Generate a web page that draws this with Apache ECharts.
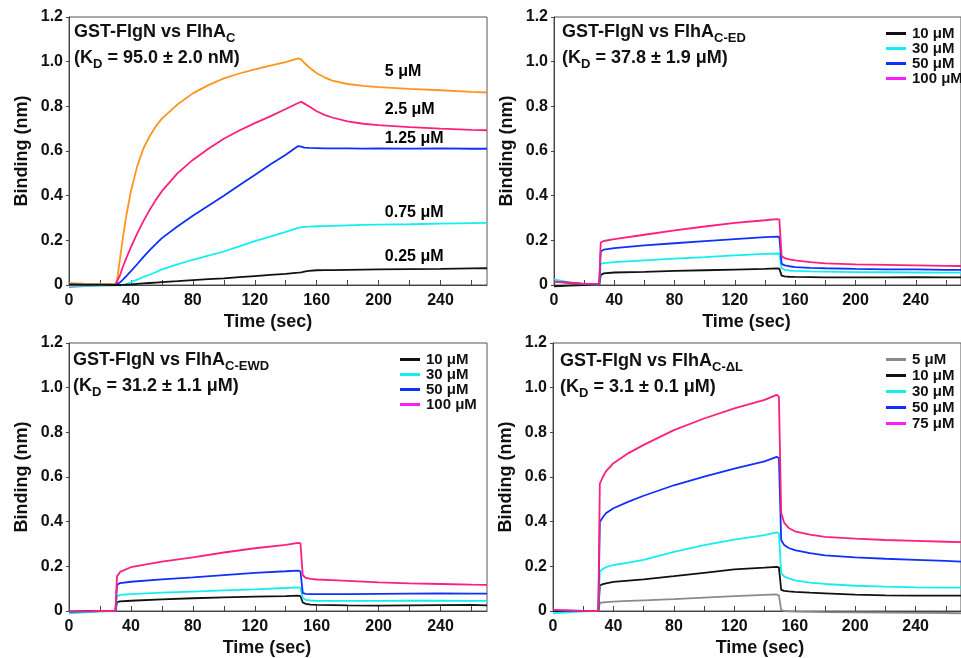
<!DOCTYPE html>
<html>
<head>
<meta charset="utf-8">
<script src="https://cdn.jsdelivr.net/npm/echarts@6/dist/echarts.min.js"></script>
<style>
html,body{margin:0;padding:0;background:#fff;}
#c{width:961px;height:658px;}
</style>
</head>
<body>
<div id="c"></div>
<script>
// ---------------- DATA ----------------
const xTickLabels = [0, 40, 80, 120, 160, 200, 240];
const xMinorTicks = [0, 20, 40, 60, 80, 100, 120, 140, 160, 180, 200, 220, 240, 260];
const yTickLabels = ['0', '0.2', '0.4', '0.6', '0.8', '1.0', '1.2'];

// Panel 1: GST-FlgN vs FlhA_C
const t1 = [0, 10, 20, 30, 31, 33, 35, 37, 40, 44, 48, 52, 56, 60, 70, 80, 90, 100, 110, 120, 130, 140, 148, 150, 152, 155, 160, 165, 170, 180, 190, 200, 220, 240, 260, 270];
const p1_5uM   = [0.008, 0.006, 0.005, 0.005, 0.02, 0.12, 0.22, 0.31, 0.42, 0.53, 0.61, 0.665, 0.71, 0.745, 0.808, 0.858, 0.895, 0.925, 0.947, 0.966, 0.982, 0.998, 1.015, 1.01, 0.995, 0.975, 0.948, 0.93, 0.915, 0.9, 0.892, 0.886, 0.878, 0.872, 0.865, 0.862];
const p1_2_5uM = [-0.008, -0.005, -0.002, 0, 0.002, 0.045, 0.085, 0.12, 0.17, 0.23, 0.285, 0.335, 0.38, 0.42, 0.5, 0.56, 0.61, 0.655, 0.692, 0.725, 0.755, 0.788, 0.815, 0.82, 0.812, 0.8, 0.778, 0.762, 0.75, 0.733, 0.722, 0.716, 0.707, 0.7, 0.695, 0.693];
const p1_1_25uM = [0.003, 0.002, 0.002, 0, 0, 0.012, 0.025, 0.04, 0.062, 0.093, 0.125, 0.155, 0.183, 0.21, 0.262, 0.31, 0.355, 0.4, 0.447, 0.493, 0.54, 0.583, 0.622, 0.62, 0.615, 0.614, 0.613, 0.612, 0.612, 0.612, 0.611, 0.612, 0.611, 0.612, 0.61, 0.61];
const p1_0_75uM = [-0.005, -0.004, -0.003, -0.002, -0.003, -0.002, 0, 0.004, 0.012, 0.024, 0.036, 0.046, 0.057, 0.07, 0.092, 0.113, 0.132, 0.15, 0.173, 0.196, 0.217, 0.238, 0.256, 0.258, 0.26, 0.261, 0.263, 0.264, 0.265, 0.267, 0.269, 0.27, 0.272, 0.275, 0.277, 0.278];
const p1_0_25uM = [0.002, 0.001, 0.001, 0, 0, 0, 0.001, 0.002, 0.003, 0.005, 0.007, 0.009, 0.011, 0.013, 0.017, 0.022, 0.026, 0.03, 0.035, 0.04, 0.045, 0.05, 0.055, 0.057, 0.06, 0.063, 0.066, 0.067, 0.067, 0.068, 0.069, 0.07, 0.071, 0.072, 0.074, 0.075];
const p1LabelText = ['5 μM', '2.5 μM', '1.25 μM', '0.75 μM', '0.25 μM'];
const p1LabelX = [204, 204, 204, 204, 204];
const p1LabelY = [0.954, 0.784, 0.654, 0.322, 0.125];

// Panel 2: GST-FlgN vs FlhA_C-ED
const t2 = [0, 10, 20, 30, 31, 33, 40, 60, 80, 100, 120, 140, 148, 149.5, 151, 153, 156, 160, 170, 180, 200, 220, 240, 260, 270];
const p2_100uM = [0.015, 0.01, 0.005, 0.005, 0.19, 0.197, 0.205, 0.225, 0.245, 0.262, 0.278, 0.29, 0.295, 0.293, 0.13, 0.12, 0.115, 0.11, 0.102, 0.097, 0.092, 0.09, 0.088, 0.086, 0.085];
const p2_50uM  = [0.015, 0.01, 0.005, 0.003, 0.15, 0.158, 0.165, 0.177, 0.187, 0.196, 0.205, 0.214, 0.217, 0.215, 0.095, 0.088, 0.084, 0.08, 0.077, 0.075, 0.072, 0.07, 0.07, 0.068, 0.068];
const p2_30uM  = [0.025, 0.012, 0.004, 0.002, 0.095, 0.098, 0.102, 0.11, 0.118, 0.125, 0.133, 0.139, 0.141, 0.14, 0.075, 0.068, 0.065, 0.063, 0.061, 0.06, 0.058, 0.057, 0.056, 0.055, 0.055];
const p2_10uM  = [-0.006, -0.003, 0, 0.001, 0.045, 0.052, 0.056, 0.059, 0.063, 0.066, 0.069, 0.072, 0.074, 0.073, 0.042, 0.039, 0.037, 0.036, 0.035, 0.034, 0.034, 0.034, 0.035, 0.034, 0.034];

// Panel 3: GST-FlgN vs FlhA_C-EWD
const t3 = [0, 10, 20, 30, 31, 33, 40, 60, 80, 100, 120, 140, 148, 149.5, 151, 153, 156, 160, 170, 180, 200, 220, 240, 260, 270];
const p3_100uM = [-0.003, -0.002, 0, 0, 0.155, 0.175, 0.196, 0.221, 0.24, 0.262, 0.281, 0.296, 0.305, 0.303, 0.16, 0.148, 0.144, 0.141, 0.138, 0.135, 0.128, 0.124, 0.121, 0.118, 0.117];
const p3_50uM  = [-0.003, -0.002, 0, 0, 0.117, 0.125, 0.131, 0.142, 0.151, 0.161, 0.171, 0.178, 0.181, 0.178, 0.08, 0.077, 0.076, 0.076, 0.076, 0.076, 0.077, 0.078, 0.079, 0.078, 0.078];
const p3_30uM  = [-0.01, -0.006, -0.003, 0, 0.065, 0.072, 0.076, 0.082, 0.087, 0.092, 0.097, 0.103, 0.106, 0.104, 0.058, 0.05, 0.047, 0.046, 0.045, 0.045, 0.045, 0.046, 0.046, 0.045, 0.045];
const p3_10uM  = [-0.004, -0.002, 0, 0, 0.04, 0.043, 0.046, 0.052, 0.057, 0.061, 0.064, 0.067, 0.069, 0.067, 0.038, 0.032, 0.029, 0.027, 0.026, 0.025, 0.024, 0.025, 0.026, 0.027, 0.025];

// Panel 4: GST-FlgN vs FlhA_C-ΔL
const t4 = [0, 10, 20, 30, 31, 33, 35, 40, 50, 60, 80, 100, 120, 140, 148, 149.5, 151, 153, 156, 160, 170, 180, 200, 220, 240, 260, 270];
const p4_75uM = [0.005, 0.003, 0.001, 0, 0.57, 0.6, 0.625, 0.662, 0.707, 0.744, 0.81, 0.862, 0.907, 0.945, 0.968, 0.96, 0.44, 0.395, 0.372, 0.357, 0.342, 0.332, 0.324, 0.318, 0.314, 0.31, 0.308];
const p4_50uM = [0.003, 0.002, 0, 0, 0.4, 0.42, 0.438, 0.46, 0.49, 0.516, 0.563, 0.602, 0.638, 0.67, 0.69, 0.685, 0.318, 0.295, 0.282, 0.273, 0.259, 0.249, 0.24, 0.234, 0.229, 0.224, 0.221];
const p4_30uM = [-0.01, -0.006, -0.002, 0, 0.176, 0.188, 0.196, 0.206, 0.217, 0.229, 0.265, 0.295, 0.32, 0.34, 0.352, 0.348, 0.17, 0.155, 0.146, 0.137, 0.127, 0.121, 0.113, 0.109, 0.106, 0.105, 0.105];
const p4_10uM = [0, 0, 0, 0, 0.115, 0.12, 0.124, 0.13, 0.136, 0.142, 0.156, 0.171, 0.186, 0.194, 0.198, 0.195, 0.095, 0.09, 0.088, 0.086, 0.082, 0.079, 0.073, 0.07, 0.069, 0.069, 0.069];
const p4_5uM  = [0, 0, 0, 0, 0.037, 0.038, 0.04, 0.042, 0.045, 0.048, 0.053, 0.06, 0.067, 0.072, 0.074, 0.07, 0.005, 0, -0.002, -0.003, -0.004, -0.005, -0.006, -0.007, -0.008, -0.009, -0.01];

// ---------------- STYLE ----------------
const FONT = '"Liberation Sans", Arial, Helvetica, sans-serif';
const C = {
  orange: '#ff9420', pink: '#ff1f7d', blue: '#1030ff', cyan: '#14eef0',
  black: '#111111', gray: '#8a8a8a', magenta: '#ff1aff'
};

const panels = [
  { left: 69, top: 17, width: 418, title: ['GST-FlgN vs FlhA', 'C', 'D', ' = 95.0 ± 2.0 nM)'], tLeft: 74, tTop: 19, nameShift: 20,
    t: t1, series: [['5 μM', p1_5uM, C.orange], ['2.5 μM', p1_2_5uM, C.pink], ['1.25 μM', p1_1_25uM, C.blue], ['0.75 μM', p1_0_75uM, C.cyan], ['0.25 μM', p1_0_25uM, C.black]],
    legend: null },
  { left: 554, top: 17, width: 420, title: ['GST-FlgN vs FlhA', 'C-ED', 'D', ' = 37.8 ± 1.9 μM)'], tLeft: 562, tTop: 19, nameShift: 22,
    t: t2, series: [['10 μM', p2_10uM, C.black], ['30 μM', p2_30uM, C.cyan], ['50 μM', p2_50uM, C.blue], ['100 μM', p2_100uM, C.pink]],
    legend: { left: 886, top: 26, gap: 0, swatch: [C.black, C.cyan, C.blue, C.magenta] } },
  { left: 69, top: 343, width: 418, title: ['GST-FlgN vs FlhA', 'C-EWD', 'D', ' = 31.2 ± 1.1 μM)'], tLeft: 73, tTop: 347, nameShift: 22,
    t: t3, series: [['10 μM', p3_10uM, C.black], ['30 μM', p3_30uM, C.cyan], ['50 μM', p3_50uM, C.blue], ['100 μM', p3_100uM, C.pink]],
    legend: { left: 400, top: 352, gap: 0, swatch: [C.black, C.cyan, C.blue, C.magenta] } },
  { left: 553, top: 343, width: 420, title: ['GST-FlgN vs FlhA', 'C-ΔL', 'D', ' = 3.1 ± 0.1 μM)'], tLeft: 560, tTop: 348, nameShift: -6,
    t: t4, series: [['5 μM', p4_5uM, C.gray], ['10 μM', p4_10uM, C.black], ['30 μM', p4_30uM, C.cyan], ['50 μM', p4_50uM, C.blue], ['75 μM', p4_75uM, C.pink]],
    legend: { left: 886, top: 352, gap: 1, swatch: [C.gray, C.black, C.cyan, C.blue, C.magenta] } }
];

const grid = [], xAxis = [], yAxis = [], series = [], legend = [], title = [];
panels.forEach((p, i) => {
  grid.push({ left: p.left, top: p.top, width: p.width, height: 268, show: true, borderColor: '#555', borderWidth: 1, backgroundColor: 'transparent' });
  xAxis.push({
    type: 'value', gridIndex: i, min: 0, max: 270, interval: 40,
    name: 'Time (sec)', nameLocation: 'middle', nameGap: 28,
    nameTextStyle: { fontFamily: FONT, fontSize: 18, fontWeight: 'bold', color: '#111', padding: [0, p.nameShift, 0, 0] },
    axisLine: { show: true, lineStyle: { color: '#444', width: 1 } },
    axisTick: { show: true, inside: true, length: 5, customValues: xMinorTicks, lineStyle: { color: '#444' } },
    axisLabel: { customValues: xTickLabels, fontFamily: FONT, fontSize: 16, fontWeight: 'bold', color: '#111', margin: 8 },
    splitLine: { show: false }
  });
  yAxis.push({
    type: 'value', gridIndex: i, min: 0, max: 1.2, interval: 0.2,
    name: 'Binding (nm)', nameLocation: 'middle', nameGap: 38,
    nameTextStyle: { fontFamily: FONT, fontSize: 18, fontWeight: 'bold', color: '#111' },
    axisLine: { show: true, lineStyle: { color: '#444', width: 1 } },
    axisTick: { show: true, inside: false, length: 3, lineStyle: { color: '#444' } },
    axisLabel: { fontFamily: FONT, fontSize: 16, fontWeight: 'bold', color: '#111', margin: 6,
      formatter: v => yTickLabels[Math.round(v / 0.2)] },
    splitLine: { show: false }
  });
  p.series.forEach(s => {
    series.push({
      type: 'line', name: s[0], xAxisIndex: i, yAxisIndex: i,
      data: p.t.map((tt, k) => [tt, s[1][k]]),
      showSymbol: false, symbol: 'none', smooth: false,
      lineStyle: { color: s[2], width: 1.8 }, itemStyle: { color: s[2] },
      clip: false, silent: true, animation: false
    });
  });
  if (p.legend) {
    legend.push({
      orient: 'vertical', left: p.legend.left, top: p.legend.top, padding: 0,
      itemGap: p.legend.gap, itemWidth: 20, itemHeight: 3, icon: 'rect', selectedMode: false,
      textStyle: { fontFamily: FONT, fontSize: 15, fontWeight: 'bold', color: '#111', padding: [0, 0, 0, 1] },
      data: p.series.map((s, k) => ({ name: s[0], itemStyle: { color: p.legend.swatch[k] } }))
    });
  }
  title.push({
    left: p.tLeft, top: p.tTop, padding: 0,
    text: '{b|' + p.title[0] + '}{s|' + p.title[1] + '}\n{b|(K}{s|' + p.title[2] + '}{b|' + p.title[3] + '}',
    textStyle: {
      rich: {
        b: { fontFamily: FONT, fontSize: 18, fontWeight: 'bold', color: '#111', lineHeight: 26 },
        s: { fontFamily: FONT, fontSize: 13, fontWeight: 'bold', color: '#111', lineHeight: 14, verticalAlign: 'bottom' }
      }
    }
  });
});

// Panel 1 concentration labels
series.push({
  type: 'scatter', xAxisIndex: 0, yAxisIndex: 0, symbolSize: 0, silent: true, animation: false,
  itemStyle: { opacity: 1 },
  data: p1LabelX.map((x, k) => ({ value: [x, p1LabelY[k]], label: { formatter: p1LabelText[k] } })),
  label: { show: true, position: [0, 0], align: 'left', verticalAlign: 'middle', opacity: 1,
    fontFamily: FONT, fontSize: 16, fontWeight: 'bold', color: '#000' }
});

const chart = echarts.init(document.getElementById('c'), null, { renderer: 'canvas' });
chart.setOption({ backgroundColor: '#fff', animation: false, title, grid, xAxis, yAxis, series, legend });
</script>
</body>
</html>
